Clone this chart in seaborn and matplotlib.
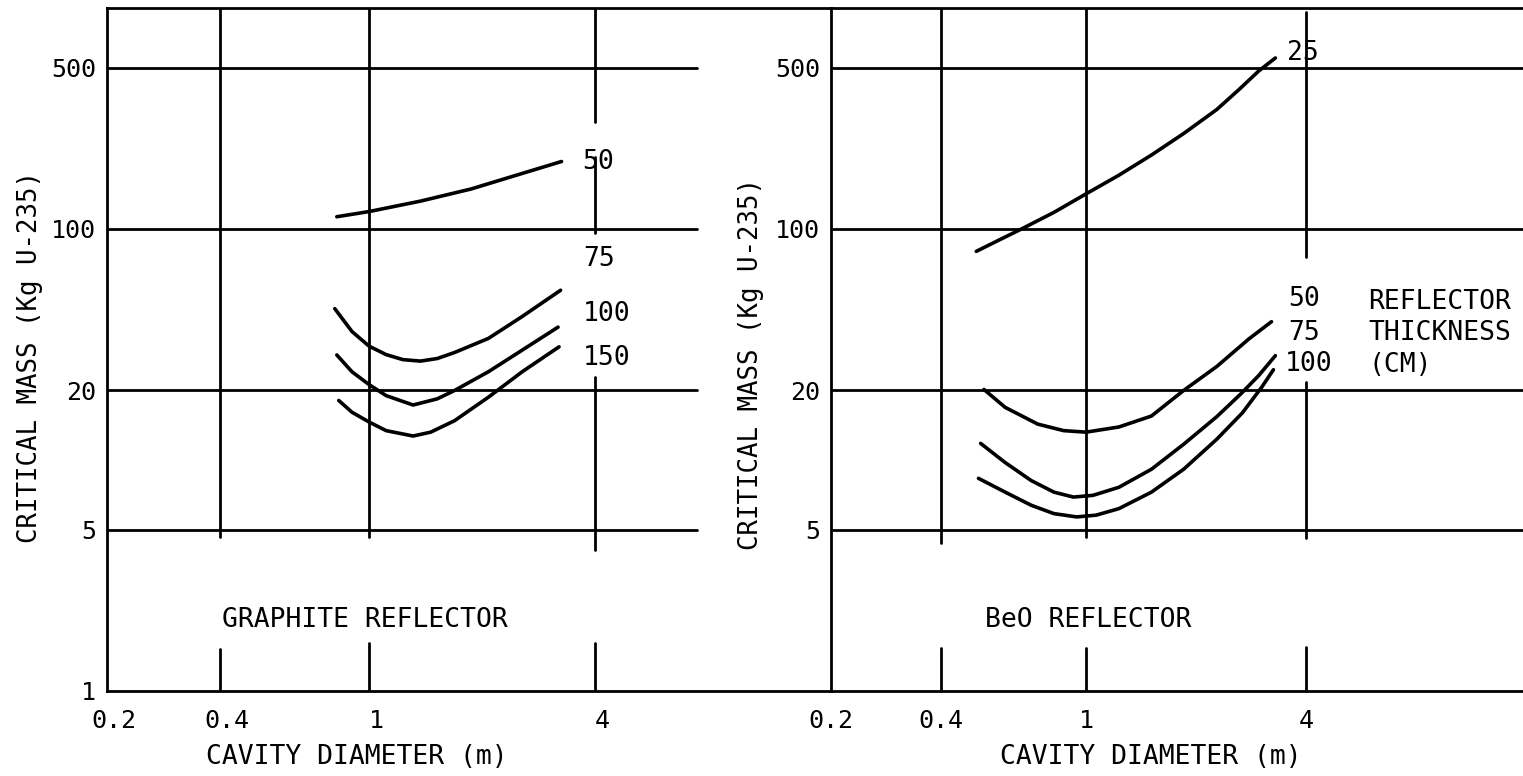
import numpy as np
import pandas as pd
import matplotlib
matplotlib.use("Agg")
import matplotlib.pyplot as plt
import matplotlib.transforms as mtransforms
import seaborn as sns

# ---------------- data ----------------
graphite_thickness = [50, 75, 100, 150]
graphite_d_50 = [0.82, 1.0, 1.37, 1.87, 2.56, 3.26]
graphite_m_50 = [113, 119, 132, 149, 174, 196]
graphite_d_75 = [0.81, 0.90, 1.0, 1.11, 1.23, 1.37, 1.52, 1.69, 2.08, 2.56, 3.24]
graphite_m_75 = [45.2, 36.0, 31.1, 28.6, 27.2, 26.8, 27.5, 29.2, 33.6, 41.8, 54.3]
graphite_d_100 = [0.82, 0.90, 1.0, 1.11, 1.31, 1.52, 1.69, 2.08, 2.56, 3.19]
graphite_m_100 = [28.5, 24.1, 21.2, 19.0, 17.3, 18.4, 20.0, 24.1, 29.9, 37.6]
graphite_d_150 = [0.83, 0.90, 1.0, 1.11, 1.31, 1.46, 1.69, 2.08, 2.56, 3.21]
graphite_m_150 = [18.1, 16.1, 14.6, 13.4, 12.7, 13.2, 14.8, 18.7, 24.1, 30.9]

beo_thickness = [25, 50, 75, 100]
beo_d_25 = [0.50, 0.575, 0.665, 0.816, 1.0, 1.23, 1.51, 1.85, 2.28, 2.63, 2.97, 3.30]
beo_m_25 = [80.0, 89.3, 100, 118, 142, 171, 209, 259, 329, 403, 483, 550]
beo_d_50 = [0.525, 0.60, 0.737, 0.868, 1.0, 1.23, 1.51, 1.85, 2.28, 2.79, 3.22]
beo_m_50 = [20.2, 16.9, 14.3, 13.4, 13.2, 13.9, 15.5, 20.0, 25.4, 33.4, 39.7]
beo_d_75 = [0.514, 0.60, 0.707, 0.816, 0.923, 1.044, 1.23, 1.51, 1.85, 2.28, 2.66, 2.97, 3.30]
beo_m_75 = [11.8, 9.75, 8.15, 7.26, 6.91, 7.03, 7.62, 9.12, 11.7, 15.4, 19.4, 23.2, 28.3]
beo_d_100 = [0.507, 0.60, 0.707, 0.816, 0.942, 1.065, 1.23, 1.51, 1.85, 2.28, 2.68, 3.03, 3.26]
beo_m_100 = [8.33, 7.26, 6.37, 5.86, 5.67, 5.77, 6.16, 7.26, 9.12, 12.3, 16.0, 20.7, 24.6]

x_ticks = [0.2, 0.4, 1, 4]
x_tick_labels = ["0.2", "0.4", "1", "4"]
y_ticks_left = [1, 5, 20, 100, 500]
y_ticks_right = [5, 20, 100, 500]

x_label = "CAVITY DIAMETER (m)"
y_label = "CRITICAL MASS (Kg U-235)"


def long_frame(thicknesses, ds, ms):
    rows = []
    for t, d, m in zip(thicknesses, ds, ms):
        for xi, yi in zip(d, m):
            rows.append({"diameter": xi, "mass": yi, "thickness": t})
    return pd.DataFrame(rows)


df_graphite = long_frame(graphite_thickness,
                         [graphite_d_50, graphite_d_75, graphite_d_100, graphite_d_150],
                         [graphite_m_50, graphite_m_75, graphite_m_100, graphite_m_150])
df_beo = long_frame(beo_thickness,
                    [beo_d_25, beo_d_50, beo_d_75, beo_d_100],
                    [beo_m_25, beo_m_50, beo_m_75, beo_m_100])

# ---------------- style ----------------
sns.set_theme(style="white")
plt.rcParams["font.family"] = ["DejaVu Sans Mono", "DejaVu Sans"]
plt.rcParams["text.color"] = "black"
plt.rcParams["axes.edgecolor"] = "black"
plt.rcParams["xtick.color"] = "black"
plt.rcParams["ytick.color"] = "black"
plt.rcParams["axes.labelcolor"] = "black"

W, H = 1523, 776
fig = plt.figure(figsize=(W / 100, H / 100), dpi=100)
fig.patch.set_facecolor("white")

AX_BOTTOM, AX_TOP = 691, 8
ax_h = (AX_BOTTOM - AX_TOP) / H
ylim = (1, 10 ** ((AX_BOTTOM - AX_TOP) / 231))

axL = fig.add_axes([107 / W, (H - AX_BOTTOM) / H, 724 / W, ax_h])
axR = fig.add_axes([831 / W, (H - AX_BOTTOM) / H, 692 / W, ax_h])
axL.set_xlim(0.2, 0.2 * 10 ** (724 / 375))
axR.set_xlim(0.2, 0.2 * 10 ** (692 / 365))

FS_TICK = 18
FS = 19
FS_YLAB = 18.5
LW_GRID = 2.0
LW_CURVE = 2.6


def frac(y_px):
    return (AX_BOTTOM - y_px) / (AX_BOTTOM - AX_TOP)


for ax in (axL, axR):
    ax.set_xscale("log")
    ax.set_yscale("log")
    ax.set_ylim(*ylim)
    ax.set_facecolor("white")
    for side in ("left", "bottom", "top"):
        ax.spines[side].set_visible(True)
        ax.spines[side].set_linewidth(LW_GRID)
        ax.spines[side].set_color("black")
    ax.spines["right"].set_visible(False)
    ax.minorticks_off()

sns.lineplot(data=df_graphite, x="diameter", y="mass", units="thickness",
             estimator=None, color="black", lw=LW_CURVE, ax=axL, legend=False,
             solid_capstyle="round", solid_joinstyle="round")
sns.lineplot(data=df_beo, x="diameter", y="mass", units="thickness",
             estimator=None, color="black", lw=LW_CURVE, ax=axR, legend=False,
             solid_capstyle="round", solid_joinstyle="round")

for ax in (axL, axR):
    ax.minorticks_off()
    ax.set_xticks(x_ticks)
    ax.set_xticklabels(x_tick_labels)
    ax.tick_params(axis="both", length=0, labelsize=FS_TICK)
    ax.tick_params(axis="x", pad=13)
    ax.tick_params(axis="y", pad=8)

axL.set_yticks(y_ticks_left)
axL.set_yticklabels([str(v) for v in y_ticks_left])
axR.set_yticks(y_ticks_right)
axR.set_yticklabels([str(v) for v in y_ticks_right])

# shift left panel x tick labels slightly right as in the scan
offset = mtransforms.ScaledTranslation(7 / 100, 0, fig.dpi_scale_trans)
for lab in axL.get_xticklabels():
    lab.set_transform(lab.get_transform() + offset)

# ---------------- grid lines ----------------
gl = dict(color="black", lw=LW_GRID, zorder=1)
xmaxL = (697 - 107) / 724
for v in y_ticks_right:
    axL.axhline(v, xmin=0, xmax=xmaxL, **gl)
    axR.axhline(v, xmin=0, xmax=1, **gl)

# left panel verticals
axL.axvline(0.4, ymin=frac(537), ymax=1, **gl)
axL.axvline(1, ymin=frac(537), ymax=1, **gl)
axL.axvline(4, ymin=frac(122), ymax=1, **gl)
axL.axvline(4, ymin=frac(233), ymax=frac(157), **gl)
axL.axvline(4, ymin=frac(550), ymax=frac(377), **gl)
axL.axvline(0.4, ymin=0, ymax=frac(649), **gl)
axL.axvline(1, ymin=0, ymax=frac(643), **gl)
axL.axvline(4, ymin=0, ymax=frac(643), **gl)

# right panel verticals
axR.axvline(0.4, ymin=frac(543), ymax=1, **gl)
axR.axvline(1, ymin=frac(537), ymax=1, **gl)
axR.axvline(4, ymin=frac(257), ymax=frac(12), **gl)
axR.axvline(4, ymin=frac(538), ymax=frac(382), **gl)
axR.axvline(0.4, ymin=0, ymax=frac(648), **gl)
axR.axvline(1, ymin=0, ymax=frac(648), **gl)
axR.axvline(4, ymin=0, ymax=frac(647), **gl)

# ---------------- axis labels ----------------
axL.set_xlabel(x_label, fontsize=FS, va="center")
axL.xaxis.set_label_coords((357 - 107) / 724, frac(757))
axR.set_xlabel(x_label, fontsize=FS, va="center")
axR.xaxis.set_label_coords((1151 - 831) / 692, frac(757))

axL.set_ylabel(y_label, fontsize=FS_YLAB, va="center")
axL.yaxis.set_label_coords((30 - 107) / 724, frac(357))
axR.set_ylabel(y_label, fontsize=FS_YLAB, va="center")
axR.yaxis.set_label_coords((751 - 831) / 692, frac(364))

# ---------------- annotations ----------------
CAP = 9  # half cap height in px


def ftext(x_px, cy_px, s, **kw):
    fig.text(x_px / W, 1 - (cy_px + CAP) / H, s, fontsize=FS, ha="left",
             va="baseline", **kw)


ftext(582, 160, "50")
ftext(583, 257, "75")
ftext(583, 312, "100")
ftext(583, 356, "150")
ftext(222, 618, "GRAPHITE REFLECTOR")

ftext(1287, 51, "25")
ftext(1288, 297, "50")
ftext(1288, 331, "75")
ftext(1285, 362, "100")
ftext(1368, 300, "REFLECTOR")
ftext(1368, 331, "THICKNESS")
ftext(1368, 363, "(CM)")
ftext(985, 618, "BeO REFLECTOR")

fig.savefig("out.png", dpi=100, facecolor="white")
